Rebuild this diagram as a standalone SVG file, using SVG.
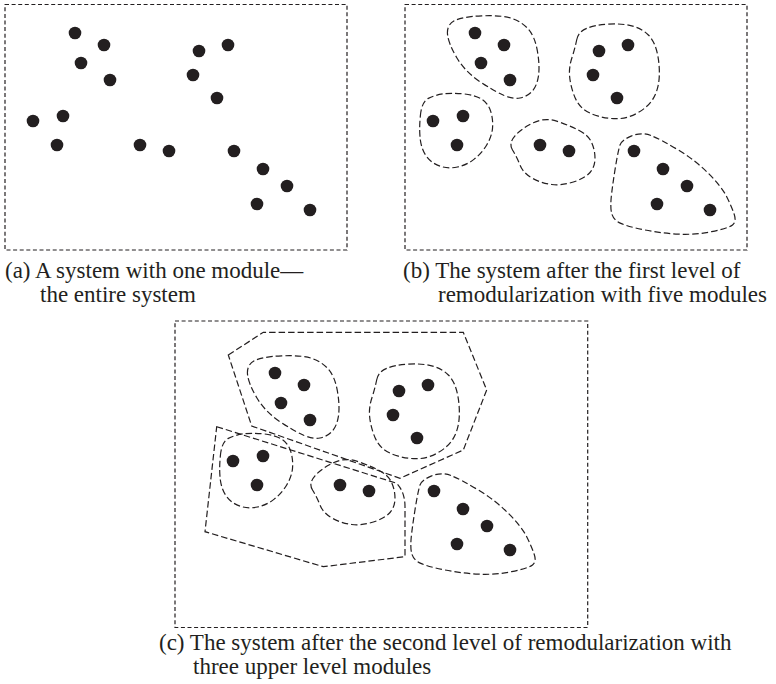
<svg xmlns="http://www.w3.org/2000/svg" xmlns:xlink="http://www.w3.org/1999/xlink" width="776" height="684" viewBox="0 0 776 684">
<style>
.frame{fill:none;stroke:#231f20;stroke-width:1.2;stroke-dasharray:4 2.6}
.mod{fill:none;stroke:#231f20;stroke-width:1.2;stroke-dasharray:6.5 3}
.dot{fill:#231f20}
.cap{font-family:"Liberation Serif","Times New Roman",serif;font-size:23px;fill:#231f20}
</style>
<defs>
<g id="dots">
<circle class="dot" cx="75" cy="33" r="6.3"/>
<circle class="dot" cx="104" cy="45" r="6.3"/>
<circle class="dot" cx="81" cy="63" r="6.3"/>
<circle class="dot" cx="110" cy="80" r="6.3"/>
<circle class="dot" cx="199" cy="51" r="6.3"/>
<circle class="dot" cx="228" cy="45" r="6.3"/>
<circle class="dot" cx="193" cy="75" r="6.3"/>
<circle class="dot" cx="217" cy="98" r="6.3"/>
<circle class="dot" cx="33" cy="121" r="6.3"/>
<circle class="dot" cx="63" cy="116" r="6.3"/>
<circle class="dot" cx="57" cy="145" r="6.3"/>
<circle class="dot" cx="140" cy="145" r="6.3"/>
<circle class="dot" cx="169" cy="151" r="6.3"/>
<circle class="dot" cx="234" cy="151" r="6.3"/>
<circle class="dot" cx="263" cy="169" r="6.3"/>
<circle class="dot" cx="287" cy="186" r="6.3"/>
<circle class="dot" cx="257" cy="204" r="6.3"/>
<circle class="dot" cx="310" cy="210" r="6.3"/>
</g>
<g id="modules">
<path id="m1" class="mod" d="M47.5,34.15 Q46.7,25 54.2,20.85 Q61.7,16.7 81.7,15.85 Q101.7,15 111.7,18.35 Q121.7,21.7 128.35,29.2 Q135,36.7 137.5,51.7 Q140,66.7 138.35,76.7 Q136.7,86.7 131.7,91.7 Q126.7,96.7 120,98 Q113.3,99.3 104.15,95.5 Q95,91.7 80,81.7 Q65,71.7 56.65,57.5 Q48.3,43.3 47.5,34.15 Z"/>
<path id="m2" class="mod" d="M176.65,40 Q178.3,31.7 186.65,28.35 Q195,25 208.35,24.15 Q221.7,23.3 231.7,25.8 Q241.7,28.3 248.35,35 Q255,41.7 257.5,54.2 Q260,66.7 259.15,78.35 Q258.3,90 253.3,98.35 Q248.3,106.7 238.3,112.5 Q228.3,118.3 218.3,118.65 Q208.3,119 198.3,116.15 Q188.3,113.3 182.5,108.3 Q176.7,103.3 173.35,93.3 Q170,83.3 169.5,75 Q169,66.7 172,57.5 Q175,48.3 176.65,40 Z"/>
<path id="m3" class="mod" d="M20.35,115.85 Q21.7,101.7 28.35,98.35 Q35,95 43.35,93.85 Q51.7,92.7 63.35,93.85 Q75,95 81.65,99.15 Q88.3,103.3 90.8,111.65 Q93.3,120 92.5,128.35 Q91.7,136.7 86.7,145 Q81.7,153.3 74.2,159.15 Q66.7,165 57.5,167 Q48.3,169 40,166.15 Q31.7,163.3 26.7,156.65 Q21.7,150 20.35,140 Q19,130 20.35,115.85 Z"/>
<path id="m4" class="mod" d="M112.5,150 Q108.3,143.3 115,135.8 Q121.7,128.3 133.35,122.8 Q145,117.3 156.65,121.15 Q168.3,125 178.3,130 Q188.3,135 191.65,142.5 Q195,150 195,158.35 Q195,166.7 190,172.5 Q185,178.3 173.35,182 Q161.7,185.7 151.7,184.5 Q141.7,183.3 132.5,178.3 Q123.3,173.3 120,165 Q116.7,156.7 112.5,150 Z"/>
<path id="m5" class="mod" d="M220,145 Q221.7,140 231.7,135.85 Q241.7,131.7 251.7,135.85 Q261.7,140 278.35,150 Q295,160 308.35,173.35 Q321.7,186.7 326.7,196.7 Q331.7,206.7 334.2,214.2 Q336.7,221.7 332.5,225 Q328.3,228.3 311.65,231.65 Q295,235 278.35,234.15 Q261.7,233.3 245,230 Q228.3,226.7 220.8,223.35 Q213.3,220 211.65,213.35 Q210,206.7 211.65,193.35 Q213.3,180 215.8,165 Q218.3,150 220,145 Z"/>
</g>
</defs>

<g id="panel-a">
<rect class="frame" x="5" y="4.5" width="342" height="245.5"/>
<use xlink:href="#dots" href="#dots"/>
<text class="cap" x="5" y="278">(a) A system with one module—</text>
<text class="cap" x="40" y="302">the entire system</text>
</g>

<g id="panel-b">
<rect class="frame" x="405" y="4.5" width="342" height="245.5"/>
<g transform="translate(400,0)">
<use xlink:href="#modules" href="#modules"/>
<use xlink:href="#dots" href="#dots"/>
</g>
<text class="cap" x="403" y="278">(b) The system after the first level of</text>
<text class="cap" x="438" y="302">remodularization with five modules</text>
</g>

<g id="panel-c">
<rect class="frame" x="175" y="321" width="412.7" height="306.5"/>
<g id="upper-1">
<path class="mod" d="M228.3,355 L263.3,332.3 L463.3,332.3 L486.7,390 L463.3,450 L400,478.3 L251.7,426 Z"/>
</g>
<g id="upper-2">
<path class="mod" d="M216.7,426.7 L396.7,483.3 Q405,492 405,506.7 L405,556.7 L323.3,566.7 L205,531.7 Z"/>
</g>
<g transform="translate(200,340)">
<use xlink:href="#modules" href="#modules"/>
<use xlink:href="#dots" href="#dots"/>
</g>
<text class="cap" x="159" y="650">(c) The system after the second level of remodularization with</text>
<text class="cap" x="193" y="674">three upper level modules</text>
</g>
</svg>
